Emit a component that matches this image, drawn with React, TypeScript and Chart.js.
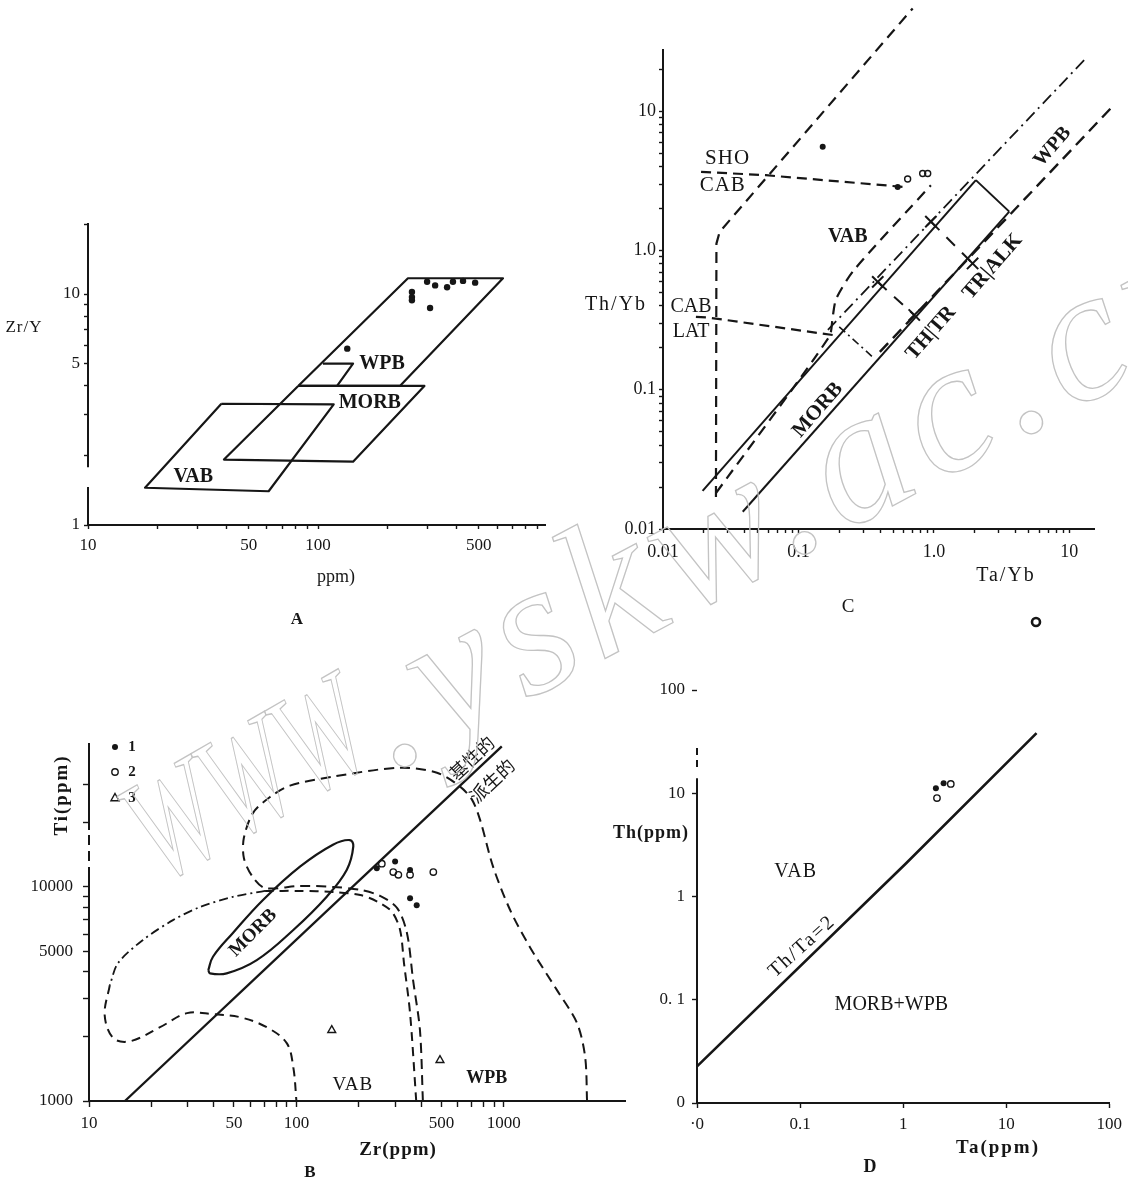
import React, { useEffect, useRef } from "react";
import { Chart, registerables } from "chart.js";

Chart.register(...registerables);

type Pt = [number, number];

const SERIF = "'Liberation Serif', 'DejaVu Serif', serif";
const CJK = "'Noto Sans CJK SC', 'Noto Sans CJK JP', sans-serif";
const INK = "#161616";

// ================= Panel A : Zr/Y vs Zr =================
const A_X_TICKS = [10, 20, 30, 40, 50, 60, 70, 80, 90, 100, 200, 300, 400, 500, 600, 700, 800, 900];
const A_X_LABELS: Record<string, string> = { "10": "10", "50": "50", "100": "100", "500": "500" };
const A_Y_TICKS = [1, 2, 3, 4, 5, 6, 7, 8, 9, 10, 20];
const A_Y_LABELS: Record<string, string> = { "1": "1", "5": "5", "10": "10" };
const A_WPB: Pt[] = [[82, 4], [246, 11.7], [637, 11.7], [227, 4], [82, 4]];
const A_WPB_NOTCH: Pt[] = [[105, 5.0], [142, 5.0], [121, 4.0]];
const A_MORB: Pt[] = [[82, 4], [290, 4], [142, 1.88], [39, 1.92], [82, 4]];
const A_VAB: Pt[] = [[38, 3.35], [117, 3.33], [61, 1.4], [17.7, 1.45], [38, 3.35]];
const A_SAMPLES: Pt[] = [[256, 10.2], [256, 9.7], [256, 9.4], [298, 11.3], [323, 10.9], [364, 10.7], [386, 11.3], [427, 11.4], [482, 11.2], [307, 8.7], [134, 5.8]];

// ================= Panel C : Th/Yb vs Ta/Yb =================
const C_X_TICKS = [0.01, 0.02, 0.03, 0.04, 0.05, 0.06, 0.07, 0.08, 0.09, 0.1, 0.2, 0.3, 0.4, 0.5, 0.6, 0.7, 0.8, 0.9, 1, 2, 3, 4, 5, 6, 7, 8, 9, 10];
const C_X_LABELS: Record<string, string> = { "0.01": "0.01", "0.1": "0.1", "1": "1.0", "10": "10" };
const C_Y_TICKS = [0.01, 0.02, 0.03, 0.04, 0.05, 0.06, 0.07, 0.08, 0.09, 0.1, 0.2, 0.3, 0.4, 0.5, 0.6, 0.7, 0.8, 0.9, 1, 2, 3, 4, 5, 6, 7, 8, 9, 10, 20];
const C_Y_LABELS: Record<string, string> = { "0.01": "0.01", "0.1": "0.1", "1": "1.0", "10": "10" };
const C_VAB_OUTER: Pt[] = [[0.0246, 0.017], [0.0248, 1.12], [0.0262, 1.36], [0.697, 54.7]];
const C_VAB_INNER: Pt[] = [[0.0246, 0.0181], [0.1686, 0.24], [0.179, 0.334], [0.19, 0.45], [0.257, 0.723], [0.95, 2.94]];
const C_MORB_UPPER: Pt[] = [[0.0196, 0.0188], [2.04, 3.2]];
const C_BOX_END: Pt[] = [[2.04, 3.2], [3.6, 1.9]];
const C_MORB_LOWER: Pt[] = [[0.0388, 0.0133], [3.6, 1.9]];
const C_WPB_DASHDOT: Pt[] = [[0.165, 0.269], [13.2, 23.9]];
const C_WPB_DASHED: Pt[] = [[0.399, 0.187], [20.8, 10.8]];
const C_CROSS_DASHDOT: Pt[] = [[0.2, 0.283], [0.362, 0.168]];
const C_CROSS_1: Pt[] = [[0.95, 1.61], [1.93, 0.807]];
const C_CROSS_2: Pt[] = [[0.385, 0.595], [0.716, 0.344]];
const C_CROSS_MARKS: Pt[] = [[0.95, 1.61], [1.93, 0.807], [0.385, 0.595], [0.716, 0.344]];
const C_SHO_CAB: Pt[] = [[0.0191, 3.67], [0.0575, 3.47], [0.621, 2.85]];
const C_CAB_LAT: Pt[] = [[0.0175, 0.334], [0.0215, 0.33], [0.179, 0.247]];
const C_FILLED: Pt[] = [[0.151, 5.56], [0.54, 2.86]];
const C_OPEN: Pt[] = [[0.64, 3.26], [0.826, 3.57], [0.9, 3.57]];

// ================= Panel B : Ti vs Zr =================
const B_X_TICKS = [10, 20, 30, 40, 50, 60, 70, 80, 90, 100, 200, 300, 400, 500, 600, 700, 800, 900, 1000];
const B_X_LABELS: Record<string, string> = { "10": "10", "50": "50", "100": "100", "500": "500", "1000": "1000" };
const B_Y_TICKS = [1000, 2000, 3000, 4000, 5000, 6000, 7000, 8000, 9000, 10000, 20000, 30000];
const B_Y_LABELS: Record<string, string> = { "1000": "1000", "5000": "5000", "10000": "10000" };
const B_MAIN: Pt[] = [[14.9, 1000], [977, 45100]];
const B_MORB: Pt[] = [[37.6, 4080], [39.6, 4710], [49.4, 6080], [69, 8670], [104, 12400], [150, 15700], [181, 16500], [188, 15400], [175, 12000], [140, 8980], [96.6, 6280], [64.4, 4540], [46.1, 3940], [38.3, 3940], [37.6, 4080]];
const B_VAB_INNER: Pt[] = [[378, 1000], [353, 2570], [330, 4400], [316, 6280], [289, 7620], [247, 8490], [203, 9140], [150, 9440], [104, 9550], [70.6, 9550]];
const B_VAB_LOOP: Pt[] = [[70.6, 9550], [49.4, 8960], [34.3, 8040], [25.4, 6980], [18.2, 5640], [13.8, 4400], [12.6, 3475]];
const B_VAB_LOWER: Pt[] = [[12.6, 3475], [11.9, 2514], [13.1, 1963], [15.8, 1900], [22, 2210], [29.7, 2570], [39.6, 2540], [53.5, 2460], [71.9, 2209], [89.8, 1862], [96.6, 1436], [100, 1000]];
const B_WPB: Pt[] = [[407, 1000], [394, 2140], [365, 3665], [341, 6080], [306, 7940], [253, 9060], [203, 9660], [150, 9970], [104, 10080], [70.6, 9860], [61.1, 11220], [55.8, 13600], [55.8, 16900], [61.8, 22100], [74.6, 26200], [93.1, 29600], [150, 32600], [316, 35900], [476, 34000], [615, 29300], [703, 25400], [768, 20500], [887, 12400], [1072, 7780], [1336, 5220], [1803, 3290], [2254, 2305], [2466, 1600], [2518, 1000]];
const B_GROUP1: Pt[] = [[244, 12200], [299, 13100], [353, 11960], [353, 8830], [380, 8200]];
const B_GROUP2: Pt[] = [[258, 12800], [293, 11700], [310, 11350], [353, 11350], [457, 11700]];
const B_GROUP3: Pt[] = [[148, 2140], [492, 1550]];

// ================= Panel D : Th vs Ta =================
const D_X_TICKS = [0.01, 0.1, 1, 10, 100];
const D_X_LABELS: Record<string, string> = { "0.01": "·0", "0.1": "0.1", "1": "1", "10": "10", "100": "100" };
const D_Y_TICKS = [0.01, 0.1, 1, 10, 100];
const D_Y_LABELS: Record<string, string> = { "0.01": "0", "0.1": "0. 1", "1": "1", "10": "10", "100": "100" };
const D_LINE: Pt[] = [[0.01, 0.0226], [1.07, 2.1], [19.7, 38.2]];
const D_FILLED: Pt[] = [[2.08, 11.2], [2.47, 12.5]];
const D_OPEN: Pt[] = [[2.9, 12.3], [2.13, 8.97]];

// ---------------------------------------------------------
type Kind = "filled" | "open" | "tri" | "cross";
interface LineSpec { pts: Pt[]; w?: number; dash?: number[]; tension?: number }
interface PointSpec { pts: Pt[]; kind: Kind; r: number }
interface TextSpec { text: string; at?: Pt; px?: Pt; font: string; rot?: number; align?: CanvasTextAlign; spacing?: number }
interface MarkSpec { px: Pt; kind: Kind; r: number; lw?: number }
interface SegSpec { axis: "x" | "y"; from: number; to: number; dash?: number[] }
interface PanelSpec {
  left: number; top: number; width: number; height: number;
  area: { left: number; top: number; right: number; bottom: number };
  xMin: number; xMax: number; yMin: number; yMax: number;
  xTicks: number[]; xLabels: Record<string, string>;
  yTicks: number[]; yLabels: Record<string, string>;
  tickSize: number; tickLen: number; xPad: number; yPad: number;
  yBorder: boolean; segs: SegSpec[];
  lines: LineSpec[]; points: PointSpec[]; texts: TextSpec[]; marks: MarkSpec[];
}

function drawMark(ctx: CanvasRenderingContext2D, kind: Kind, x: number, y: number, r: number, lw = 1.4) {
  ctx.beginPath();
  if (kind === "tri") {
    ctx.moveTo(x, y - r);
    ctx.lineTo(x + r * 0.9, y + r * 0.6);
    ctx.lineTo(x - r * 0.9, y + r * 0.6);
    ctx.closePath();
  } else {
    ctx.arc(x, y, r, 0, Math.PI * 2);
  }
  if (kind === "filled") {
    ctx.fillStyle = INK;
    ctx.fill();
  } else {
    ctx.lineWidth = lw;
    ctx.strokeStyle = INK;
    ctx.stroke();
  }
}

function makeAnnot(s: PanelSpec) {
  return {
    id: "annot",
    afterDatasetsDraw(chart: any) {
      const ctx: CanvasRenderingContext2D = chart.ctx;
      const xs = chart.scales.x;
      const ys = chart.scales.y;
      ctx.save();
      ctx.strokeStyle = INK;
      ctx.lineWidth = 2;
      s.segs.forEach((g) => {
        ctx.beginPath();
        ctx.setLineDash(g.dash || []);
        if (g.axis === "y") {
          const x = xs.left;
          ctx.moveTo(x, ys.getPixelForValue(g.from));
          ctx.lineTo(x, ys.getPixelForValue(g.to));
        } else {
          const y = ys.bottom;
          ctx.moveTo(xs.getPixelForValue(g.from), y);
          ctx.lineTo(xs.getPixelForValue(g.to), y);
        }
        ctx.stroke();
      });
      ctx.setLineDash([]);
      s.marks.forEach((m) => drawMark(ctx, m.kind, m.px[0], m.px[1], m.r, m.lw));
      s.texts.forEach((t) => {
        const px = t.at ? xs.getPixelForValue(t.at[0]) : t.px![0];
        const py = t.at ? ys.getPixelForValue(t.at[1]) : t.px![1];
        ctx.save();
        ctx.translate(px, py);
        if (t.rot) ctx.rotate((t.rot * Math.PI) / 180);
        ctx.font = t.font;
        (ctx as any).letterSpacing = (t.spacing || 0) + "px";
        ctx.fillStyle = INK;
        ctx.textAlign = t.align || "center";
        ctx.textBaseline = "middle";
        ctx.fillText(t.text, 0, 0);
        ctx.restore();
      });
      ctx.restore();
    },
  };
}

function buildConfig(s: PanelSpec): any {
  const datasets: any[] = [];
  s.lines.forEach((l) =>
    datasets.push({
      data: l.pts.map(([x, y]) => ({ x, y })),
      showLine: true,
      pointRadius: 0,
      pointHoverRadius: 0,
      borderColor: INK,
      borderWidth: l.w ?? 2,
      borderDash: l.dash ?? [],
      tension: l.tension ?? 0,
      fill: false,
      clip: false,
      borderJoinStyle: "round",
    })
  );
  s.points.forEach((p) =>
    datasets.push({
      data: p.pts.map(([x, y]) => ({ x, y })),
      showLine: false,
      pointStyle: p.kind === "tri" ? "triangle" : p.kind === "cross" ? "crossRot" : "circle",
      pointRadius: p.r,
      pointHoverRadius: p.r,
      pointBackgroundColor: p.kind === "filled" ? INK : "rgba(255,255,255,0)",
      pointBorderColor: INK,
      pointBorderWidth: p.kind === "filled" ? 0 : p.kind === "cross" ? 2 : 1.4,
      clip: false,
    })
  );
  const font = { family: SERIF, size: s.tickSize };
  const axisBase = (isX: boolean) => ({
    type: "logarithmic",
    position: isX ? "bottom" : "left",
    min: isX ? s.xMin : s.yMin,
    max: isX ? s.xMax : s.yMax,
    border: { display: isX ? true : s.yBorder, color: INK, width: 2 },
    grid: { display: true, drawOnChartArea: false, drawTicks: true, tickLength: s.tickLen, tickColor: INK, tickWidth: 1.4, color: INK },
    ticks: {
      autoSkip: false,
      maxRotation: 0,
      minRotation: 0,
      padding: isX ? s.xPad : s.yPad,
      color: INK,
      font,
      callback: (v: number) => (isX ? s.xLabels : s.yLabels)[String(v)] ?? "",
    },
    afterBuildTicks: (sc: any) => {
      sc.ticks = (isX ? s.xTicks : s.yTicks).map((v) => ({ value: v }));
    },
    afterFit: (sc: any) => {
      if (isX) sc.height = s.height - s.area.bottom;
      else sc.width = s.area.left;
    },
  });
  return {
    type: "scatter",
    data: { datasets },
    options: {
      responsive: false,
      maintainAspectRatio: false,
      animation: false,
      devicePixelRatio: 1,
      events: [],
      layout: { padding: { left: 0, top: s.area.top, right: s.width - s.area.right, bottom: 0 } },
      plugins: { legend: { display: false }, tooltip: { enabled: false }, title: { display: false } },
      scales: { x: axisBase(true), y: axisBase(false) },
    },
    plugins: [makeAnnot(s)],
  };
}

const bold = (n: number) => `bold ${n}px ${SERIF}`;
const reg = (n: number) => `${n}px ${SERIF}`;

const A_SPEC: PanelSpec = {
  left: 0, top: 200, width: 560, height: 440,
  area: { left: 88, top: 23, right: 545, bottom: 325 },
  xMin: 10, xMax: 970, yMin: 1, yMax: 20.3,
  xTicks: A_X_TICKS, xLabels: A_X_LABELS, yTicks: A_Y_TICKS, yLabels: A_Y_LABELS,
  tickSize: 17, tickLen: 4, xPad: 6, yPad: 4,
  yBorder: false,
  segs: [{ axis: "y", from: 1, to: 1.46 }, { axis: "y", from: 1.78, to: 20.3 }],
  lines: [
    { pts: A_WPB, w: 2.2 }, { pts: A_WPB_NOTCH, w: 2.2 }, { pts: A_MORB, w: 2.2 }, { pts: A_VAB, w: 2.2 },
  ],
  points: [{ pts: A_SAMPLES, kind: "filled", r: 3.2 }],
  texts: [
    { text: "WPB", at: [190, 4.98], font: bold(20) },
    { text: "MORB", at: [168, 3.37], font: bold(20) },
    { text: "VAB", at: [28.7, 1.61], font: bold(20) },
    { text: "Zr/Y", px: [24, 128], font: reg(17), spacing: 1 },
    { text: "ppm)", px: [336, 377], font: reg(18) },
    { text: "A", px: [297, 420], font: bold(17) },
  ],
  marks: [],
};

const C_SPEC: PanelSpec = {
  left: 580, top: 0, width: 548, height: 640,
  area: { left: 83, top: 50, right: 514, bottom: 529 },
  xMin: 0.01, xMax: 15.2, yMin: 0.01, yMax: 27.5,
  xTicks: C_X_TICKS, xLabels: C_X_LABELS, yTicks: C_Y_TICKS, yLabels: C_Y_LABELS,
  tickSize: 18, tickLen: 4, xPad: 8, yPad: 3,
  yBorder: true,
  segs: [],
  lines: [
    { pts: C_VAB_OUTER, w: 2.2, dash: [11, 7] },
    { pts: C_VAB_INNER, w: 2.2, dash: [11, 7], tension: 0.25 },
    { pts: C_MORB_UPPER, w: 2 },
    { pts: C_BOX_END, w: 2 },
    { pts: C_MORB_LOWER, w: 2 },
    { pts: C_WPB_DASHDOT, w: 1.8, dash: [12, 5, 2, 5] },
    { pts: C_WPB_DASHED, w: 2.4, dash: [12, 7] },
    { pts: C_CROSS_DASHDOT, w: 1.6, dash: [8, 4, 2, 4] },
    { pts: C_CROSS_1, w: 2, dash: [12, 10] },
    { pts: C_CROSS_2, w: 2, dash: [12, 10] },
    { pts: C_SHO_CAB, w: 2.2, dash: [10, 6] },
    { pts: C_CAB_LAT, w: 2.2, dash: [10, 6] },
  ],
  points: [
    { pts: C_FILLED, kind: "filled", r: 3 },
    { pts: C_OPEN, kind: "open", r: 3 },
    { pts: C_CROSS_MARKS, kind: "cross", r: 8 },
  ],
  texts: [
    { text: "SHO", at: [0.03, 4.58], font: reg(21), spacing: 1 },
    { text: "CAB", at: [0.0276, 2.94], font: reg(21), spacing: 1 },
    { text: "CAB", at: [0.0161, 0.394], font: reg(20) },
    { text: "LAT", at: [0.0161, 0.26], font: reg(20) },
    { text: "VAB", at: [0.231, 1.25], font: bold(20) },
    { text: "WPB", at: [7.52, 5.56], font: bold(20), rot: -49 },
    { text: "MORB", at: [0.139, 0.0714], font: bold(21), rot: -49 },
    { text: "TH|TR", at: [0.951, 0.255], font: bold(21), rot: -49 },
    { text: "TR|ALK", at: [2.71, 0.763], font: bold(21), rot: -49 },
    { text: "Th/Yb", px: [36, 305], font: reg(20), spacing: 2 },
    { text: "Ta/Yb", px: [426, 576], font: reg(20), spacing: 2 },
    { text: "C", px: [268, 607], font: reg(19) },
  ],
  marks: [{ px: [456, 622], kind: "open", r: 4, lw: 2.6 }],
};

const B_SPEC: PanelSpec = {
  left: 0, top: 680, width: 640, height: 505,
  area: { left: 89, top: 63, right: 625, bottom: 421 },
  xMin: 10, xMax: 3837, yMin: 1000, yMax: 46800,
  xTicks: B_X_TICKS, xLabels: B_X_LABELS, yTicks: B_Y_TICKS, yLabels: B_Y_LABELS,
  tickSize: 17, tickLen: 6, xPad: 6, yPad: 10,
  yBorder: false,
  segs: [
    { axis: "y", from: 1000, to: 11100 },
    { axis: "y", from: 11100, to: 18400, dash: [10, 6] },
    { axis: "y", from: 18400, to: 46800 },
  ],
  lines: [
    { pts: B_MAIN, w: 2.4 },
    { pts: B_MORB, w: 2.2, tension: 0.4 },
    { pts: B_VAB_INNER, w: 2, dash: [9, 6], tension: 0.3 },
    { pts: B_VAB_LOOP, w: 1.8, dash: [9, 4, 2, 4], tension: 0.3 },
    { pts: B_VAB_LOWER, w: 2, dash: [9, 6], tension: 0.35 },
    { pts: B_WPB, w: 2, dash: [10, 6], tension: 0.3 },
  ],
  points: [
    { pts: B_GROUP1, kind: "filled", r: 3 },
    { pts: B_GROUP2, kind: "open", r: 3.2 },
    { pts: B_GROUP3, kind: "tri", r: 4.5 },
  ],
  texts: [
    { text: "MORB", at: [61.8, 6080], font: bold(19), rot: -45 },
    { text: "VAB", at: [187, 1184], font: reg(19), spacing: 1 },
    { text: "WPB", at: [828, 1276], font: bold(18) },
    { text: "基性的", at: [700, 39900], font: `18px ${CJK}`, rot: -43 },
    { text: "派生的", at: [877, 31200], font: `18px ${CJK}`, rot: -43 },
    { text: "Ti(ppm)", px: [62, 115], font: bold(19), rot: -90, spacing: 2 },
    { text: "Zr(ppm)", px: [398, 470], font: bold(19), spacing: 1 },
    { text: "B", px: [310, 493], font: bold(17) },
    { text: "1", px: [132, 67], font: bold(15) },
    { text: "2", px: [132, 92], font: bold(15) },
    { text: "3", px: [132, 118], font: bold(15) },
  ],
  marks: [
    { px: [115, 67], kind: "filled", r: 3 },
    { px: [115, 92], kind: "open", r: 3.2 },
    { px: [115, 118], kind: "tri", r: 4.5 },
  ],
};

const D_SPEC: PanelSpec = {
  left: 600, top: 660, width: 528, height: 525,
  area: { left: 97, top: 30, right: 513, bottom: 443 },
  xMin: 0.01, xMax: 100, yMin: 0.01, yMax: 100,
  xTicks: D_X_TICKS, xLabels: D_X_LABELS, yTicks: D_Y_TICKS, yLabels: D_Y_LABELS,
  tickSize: 17, tickLen: 5, xPad: 6, yPad: 7,
  yBorder: false,
  segs: [{ axis: "y", from: 0.01, to: 14 }, { axis: "y", from: 18, to: 28, dash: [7, 5] }],
  lines: [{ pts: D_LINE, w: 2.6 }],
  points: [
    { pts: D_FILLED, kind: "filled", r: 3 },
    { pts: D_OPEN, kind: "open", r: 3.2 },
  ],
  texts: [
    { text: "VAB", at: [0.0907, 1.75], font: reg(20), spacing: 1 },
    { text: "MORB+WPB", at: [0.769, 0.0895], font: reg(20) },
    { text: "Th/Ta=2", at: [0.105, 0.328], font: reg(20), rot: -42, spacing: 2 },
    { text: "Th(ppm)", px: [51, 173], font: bold(18), spacing: 1 },
    { text: "Ta(ppm)", px: [398, 488], font: bold(19), spacing: 2 },
    { text: "D", px: [270, 507], font: bold(18) },
  ],
  marks: [],
};

const PANELS = [A_SPEC, C_SPEC, B_SPEC, D_SPEC];

function Panel({ spec }: { spec: PanelSpec }) {
  const ref = useRef<HTMLCanvasElement>(null);
  useEffect(() => {
    if (!ref.current) return;
    const chart = new Chart(ref.current, buildConfig(spec));
    return () => chart.destroy();
  }, [spec]);
  return (
    <canvas
      ref={ref}
      width={spec.width}
      height={spec.height}
      style={{ position: "absolute", left: spec.left, top: spec.top, width: spec.width, height: spec.height }}
    />
  );
}

function Watermark() {
  const common = {
    fontFamily: SERIF,
    fontStyle: "italic" as const,
    fill: "none",
    stroke: "#c3c3c3",
    strokeWidth: 1.3,
  };
  return (
    <svg
      width={1128}
      height={1185}
      style={{ position: "absolute", left: 0, top: 0, pointerEvents: "none" }}
    >
      <text {...common} fontSize={150} transform="translate(160 885) rotate(-30) scale(0.68 1)">
        WWW
      </text>
      <text {...common} fontSize={190} letterSpacing={10} transform="translate(392 772) rotate(-28)">
        .yskw.ac.cn
      </text>
    </svg>
  );
}

export default function App() {
  return (
    <div style={{ position: "absolute", left: 0, top: 0, width: 1128, height: 1185, background: "#ffffff", overflow: "hidden" }}>
      {PANELS.map((p, i) => (
        <Panel key={i} spec={p} />
      ))}
      <Watermark />
    </div>
  );
}
